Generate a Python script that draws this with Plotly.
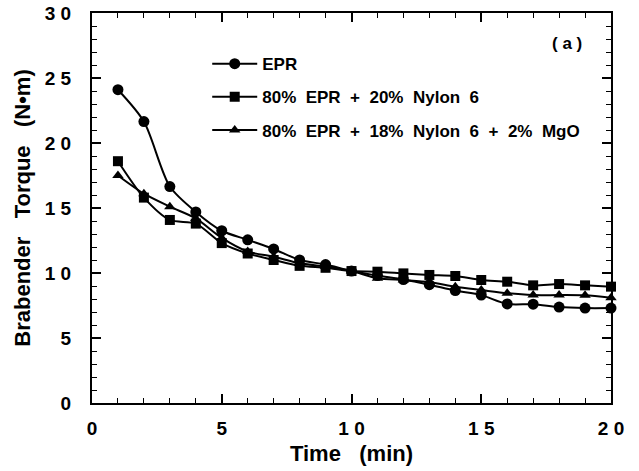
import plotly.graph_objects as go

time_min = [1, 2, 3, 4, 5, 6, 7, 8, 9, 10, 11, 12, 13, 14, 15, 16, 17, 18, 19, 20]
epr = [24.1, 21.65, 16.65, 14.7, 13.25, 12.55, 11.85, 11.0, 10.65, 10.15,
       9.8, 9.5, 9.1, 8.65, 8.3, 7.62, 7.6, 7.38, 7.3, 7.3]
epr_nylon = [18.6, 15.8, 14.08, 13.8, 12.3, 11.5, 11.0, 10.55, 10.4, 10.15,
             10.1, 9.97, 9.85, 9.77, 9.46, 9.33, 9.05, 9.15, 9.05, 8.95]
epr_nylon_mgo = [17.5, 16.1, 15.1, 14.2, 12.7, 11.65, 11.25, 10.75, 10.5, 10.15,
                 9.6, 9.46, 9.3, 8.95, 8.69, 8.44, 8.3, 8.3, 8.28, 8.1]

names = ["EPR",
         "80%\u00a0\u00a0EPR\u00a0\u00a0+\u00a0\u00a020%\u00a0\u00a0Nylon\u00a0\u00a06",
         "80%\u00a0\u00a0EPR\u00a0\u00a0+\u00a0\u00a018%\u00a0\u00a0Nylon\u00a0\u00a06\u00a0\u00a0+\u00a0\u00a02%\u00a0\u00a0MgO"]
symbols = ["circle", "square", "triangle-up"]
sizes = [11, 10, 10]
series = [epr, epr_nylon, epr_nylon_mgo]

x_tickvals = [0, 5, 10, 15, 20]
x_ticktext = ["0", "5", "1 0", "1 5", "2 0"]
y_tickvals = [0, 5, 10, 15, 20, 25, 30]
y_ticktext = ["0", "5", "1 0", "1 5", "2 0", "2 5", "3 0"]

FONT = "Liberation Sans, Arial, Helvetica, sans-serif"

fig = go.Figure()
for i, (nm, ys) in enumerate(zip(names, series)):
    fig.add_trace(go.Scatter(
        x=time_min, y=ys, name=nm, mode="lines+markers",
        line=dict(color="black", width=2, shape="spline", smoothing=0.8),
        marker=dict(symbol=symbols[i], size=sizes[i], color="black"),
        cliponaxis=False, legendgroup=f"g{i}",
    ))

axis_common = dict(
    showline=True, linecolor="black", linewidth=2, mirror="allticks",
    ticks="inside", ticklen=9, tickwidth=1.5, tickcolor="black",
    showgrid=False, zeroline=False, automargin=False,
    tickfont=dict(family=FONT, size=19, color="black", weight="bold"),
)

fig.update_xaxes(
    range=[0, 20], tickvals=x_tickvals, ticktext=x_ticktext,
    minor=dict(dtick=1, ticks="inside", ticklen=5, tickwidth=1.2, tickcolor="black", showgrid=False),
    title=dict(text="Time\u00a0\u00a0\u00a0(min)", standoff=8,
               font=dict(family=FONT, size=22, color="black", weight="bold")),
    ticklabelstandoff=7,
    **axis_common,
)
fig.update_yaxes(
    range=[0, 30], tickvals=y_tickvals, ticktext=y_ticktext,
    minor=dict(dtick=1, ticks="inside", ticklen=5, tickwidth=1.2, tickcolor="black", showgrid=False),
    title=dict(text="Brabender\u00a0\u00a0\u00a0Torque\u00a0\u00a0\u00a0(N•m)", standoff=8,
               font=dict(family=FONT, size=22, color="black", weight="bold")),
    ticklabelstandoff=15,
    **axis_common,
)

fig.add_annotation(
    x=0.915, y=0.922, xref="paper", yref="paper", text="( a )", showarrow=False,
    font=dict(family=FONT, size=17, color="black", weight="bold"),
    xanchor="center", yanchor="middle",
)

fig.update_layout(
    width=639, height=471,
    margin=dict(l=92, r=28, t=13, b=68, autoexpand=False),
    plot_bgcolor="white", paper_bgcolor="white",
    showlegend=True,
    legend=dict(
        x=0.222, y=0.915, xanchor="left", yanchor="top",
        bgcolor="rgba(0,0,0,0)", borderwidth=0,
        font=dict(family=FONT, size=17, color="black", weight="bold"),
        itemwidth=45, traceorder="grouped", tracegroupgap=8,
    ),
)

fig.write_html("out.html", config={"displayModeBar": False},
               post_script="document.body.style.margin='0px';")
